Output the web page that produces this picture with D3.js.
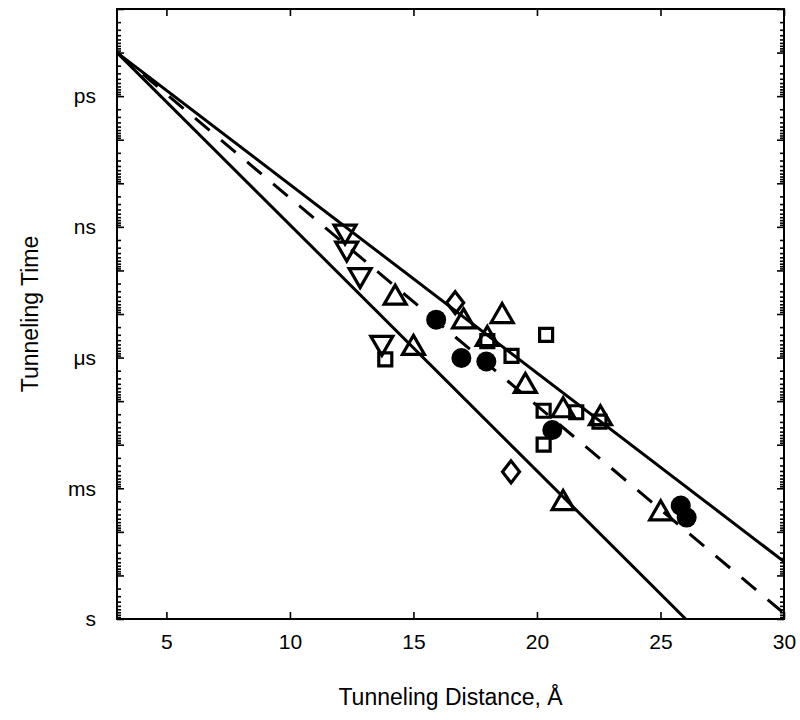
<!DOCTYPE html>
<html lang="en">
<head>
<meta charset="UTF-8">
<title>Tunneling Time vs Distance</title>
<script src="https://d3js.org/d3.v7.min.js"></script>
<style>
  body { margin: 0; background: #fff; }
  text { font-family: "Liberation Sans", Arial, sans-serif; fill: #000; }
</style>
</head>
<body>
<svg id="chart" width="800" height="720"></svg>
<script>
// axis ticks
const xTicks = [5, 10, 15, 20, 25, 30];
const yTickValues = [1e-12, 1e-9, 1e-6, 1e-3, 1];
const yTickLabels = ['ps', 'ns', 'μs', 'ms', 's'];

// data points: [distance Å, time s]
const downTriangles = [[12.23, 1.5e-9], [12.30, 3.7e-9], [12.84, 1.5e-8], [13.72, 5.4e-7]];
const upTriangles = [[14.26, 3.6e-8], [15.0, 5.1e-7], [17.03, 1.26e-7], [17.99, 3.2e-7], [18.59, 9.5e-8],
  [19.53, 3.8e-6], [21.06, 1.38e-5], [22.57, 2.1e-5], [21.06, 1.86e-3], [25.01, 3.2e-3]];
const squares = [[13.86, 1.1e-6], [17.99, 4.2e-7], [18.97, 9.1e-7], [20.37, 3.0e-7], [20.27, 1.66e-5],
  [21.59, 1.8e-5], [22.53, 2.95e-5], [20.27, 1.0e-4]];
const diamonds = [[16.69, 5.5e-8], [18.95, 4.2e-4]];
const circles = [[15.92, 1.35e-7], [16.94, 1.02e-6], [17.95, 1.23e-6], [20.62, 4.6e-5], [25.82, 2.5e-3], [26.06, 4.7e-3]];

// guide lines (end points)
const upperLine = [[3, 1e-13], [30, 4.8e-2]];
const middleLine = [[3, 1e-13], [30, 0.74]];
const lowerLine = [[3, 1e-13], [26.02, 1]];

const svg = d3.select('#chart');
const m = { left: 117, top: 9, right: 784, bottom: 619 };

const x = d3.scaleLinear().domain([3, 30]).range([m.left, m.right]);
const y = d3.scaleLog().domain([1e-14, 1]).range([m.top, m.bottom]);

// minor tick values for the log axis
const minorTicks = [];
for (let e = -14; e < 0; e++) {
  for (let k = 2; k <= 9; k++) minorTicks.push(k * Math.pow(10, e));
}
const decadeTicks = d3.range(-14, 1).map(e => Math.pow(10, e));

function styleAxis(g) {
  g.select('.domain').remove();
  g.selectAll('line').attr('stroke', '#000').attr('stroke-width', 1.6);
  g.selectAll('text').attr('font-size', 21).attr('font-family', '"Liberation Sans", Arial, sans-serif');
}

// bottom
svg.append('g').attr('transform', `translate(0,${m.bottom})`)
  .call(d3.axisBottom(x).tickValues(xTicks).tickSizeInner(-7).tickSizeOuter(0).tickPadding(15))
  .call(styleAxis);
// top
svg.append('g').attr('transform', `translate(0,${m.top})`)
  .call(d3.axisTop(x).tickValues(xTicks).tickSizeInner(-7).tickSizeOuter(0).tickFormat(''))
  .call(styleAxis);
// left major
svg.append('g').attr('transform', `translate(${m.left},0)`)
  .call(d3.axisLeft(y).tickValues(decadeTicks).tickSizeInner(-7).tickSizeOuter(0).tickFormat(''))
  .call(styleAxis);
svg.append('g').attr('transform', `translate(${m.left},0)`)
  .call(d3.axisLeft(y).tickValues(yTickValues).tickSize(0).tickPadding(21)
    .tickFormat((d, i) => yTickLabels[i]))
  .call(styleAxis);
svg.append('g').attr('transform', `translate(${m.left},0)`)
  .call(d3.axisLeft(y).tickValues(minorTicks).tickSizeInner(-4).tickSizeOuter(0).tickFormat(''))
  .call(styleAxis);
// right
svg.append('g').attr('transform', `translate(${m.right},0)`)
  .call(d3.axisRight(y).tickValues(decadeTicks).tickSizeInner(-7).tickSizeOuter(0).tickFormat(''))
  .call(styleAxis);
svg.append('g').attr('transform', `translate(${m.right},0)`)
  .call(d3.axisRight(y).tickValues(minorTicks).tickSizeInner(-4).tickSizeOuter(0).tickFormat(''))
  .call(styleAxis);

// frame
svg.append('rect')
  .attr('x', m.left).attr('y', m.top)
  .attr('width', m.right - m.left).attr('height', m.bottom - m.top)
  .attr('fill', 'none').attr('stroke', '#000').attr('stroke-width', 2);

// clip
svg.append('clipPath').attr('id', 'plot')
  .append('rect').attr('x', m.left).attr('y', m.top)
  .attr('width', m.right - m.left).attr('height', m.bottom - m.top);

const line = d3.line().x(d => x(d[0])).y(d => y(d[1]));
const plot = svg.append('g').attr('clip-path', 'url(#plot)');

plot.append('path').attr('d', line(upperLine))
  .attr('fill', 'none').attr('stroke', '#000').attr('stroke-width', 3);
plot.append('path').attr('d', line(lowerLine))
  .attr('fill', 'none').attr('stroke', '#000').attr('stroke-width', 3);
plot.append('path').attr('d', line(middleLine))
  .attr('fill', 'none').attr('stroke', '#000').attr('stroke-width', 3)
  .attr('stroke-dasharray', '19,15');

// markers
const triUp = 'M0,-9.5L11,9.5L-11,9.5Z';
const triDown = 'M0,9.5L11,-9.5L-11,-9.5Z';
const sq = 'M-6.5,-6.5H6.5V6.5H-6.5Z';
const dia = 'M0,-11L8.5,0L0,11L-8.5,0Z';

function drawMarkers(data, d, fill) {
  plot.append('g').selectAll('path').data(data).join('path')
    .attr('transform', p => `translate(${x(p[0])},${y(p[1])})`)
    .attr('d', d)
    .attr('fill', fill)
    .attr('stroke', '#000').attr('stroke-width', 3.2)
    .attr('stroke-linejoin', 'miter');
}
drawMarkers(downTriangles, triDown, 'none');
drawMarkers(upTriangles, triUp, 'none');
drawMarkers(squares, sq, 'none');
drawMarkers(diamonds, dia, 'none');
plot.append('g').selectAll('circle').data(circles).join('circle')
  .attr('cx', p => x(p[0])).attr('cy', p => y(p[1])).attr('r', 10).attr('fill', '#000');

// axis titles
svg.append('text')
  .attr('x', (m.left + m.right) / 2).attr('y', 705)
  .attr('text-anchor', 'middle').attr('font-size', 23)
  .text('Tunneling Distance, Å');
svg.append('text')
  .attr('transform', `translate(38,${(m.top + m.bottom) / 2}) rotate(-90)`)
  .attr('text-anchor', 'middle').attr('font-size', 23)
  .text('Tunneling Time');
</script>
</body>
</html>
